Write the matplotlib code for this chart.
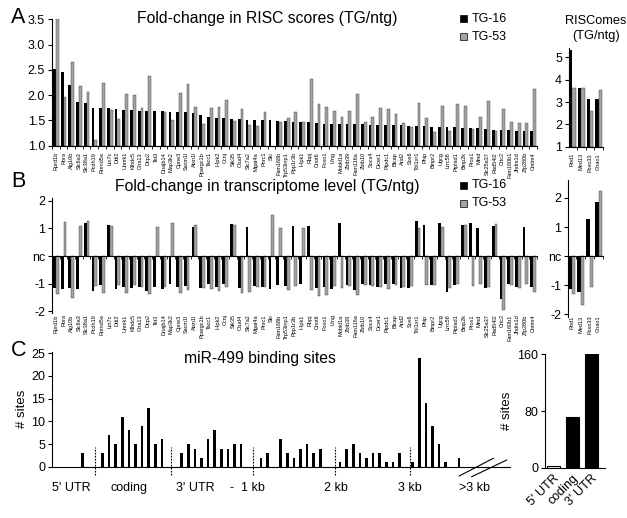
import numpy as np
import matplotlib
matplotlib.use('Agg')
import matplotlib.pyplot as plt
from matplotlib.patches import Rectangle
from matplotlib.ticker import FormatStrFormatter
from matplotlib import font_manager

plt.rcParams['font.family'] = ['Liberation Sans', 'DejaVu Sans']

# ---------------- data ----------------
genes = ['Rprd1b', 'Rora', 'Alg10b', 'Slc6a3', 'Slc38a1', 'Pcdh19', 'Rmnd5a', 'Lin7c', 'Ddi2',
         'Uhmk1', 'Klhdc5', 'Gna13', 'Dcp2', 'Tet3', 'Dnajb14', 'Map3k2', 'Cpne3', 'Sacm1l',
         'Atxn1l', 'Ppargc1b', 'Tacc1', 'Hipk2', 'Ccnj', 'Stk35', 'Otud4', 'Slc7a2', 'Mgat4a',
         'Pnrc1', 'Ski', 'Fam168b', 'Trp53inp1', 'Ppp1r3b', 'Hipk1', 'Rbpj', 'Cnot6', 'Foxo1',
         'Lfng', 'Mobkl1a', 'Zbtb39', 'Fam116a', 'Zbtb10', 'Socs4', 'Dicer1', 'Ptpdc1', 'Blcap',
         'Arid2', 'Sox6', 'Tbl1xr1', 'Phip', 'Bmpr2', 'Ugcg', 'Lrrc58', 'Ptplad1', 'Bmp2k',
         'Prox1', 'Mmd', 'Slc25a37', 'Rad54l2', 'Crtc2', 'Fam160b1', 'Jhdm1d', 'Zfp280b', 'Cmtm4']

risc_tg16 = [2.52, 2.46, 2.2, 1.86, 1.85, 1.75, 1.75, 1.74, 1.73, 1.71, 1.71, 1.69, 1.69, 1.69,
             1.69, 1.67, 1.67, 1.66, 1.64, 1.6, 1.57, 1.55, 1.54, 1.53, 1.53, 1.51, 1.5, 1.5, 1.5,
             1.49, 1.49, 1.47, 1.46, 1.46, 1.44, 1.43, 1.42, 1.42, 1.42, 1.42, 1.42, 1.41, 1.41,
             1.41, 1.4, 1.4, 1.39, 1.38, 1.38, 1.37, 1.36, 1.36, 1.36, 1.35, 1.35, 1.35, 1.34,
             1.32, 1.31, 1.31, 1.3, 1.29, 1.29]
risc_tg53 = [3.5, 1.97, 2.66, 2.18, 2.06, 1.11, 2.25, 1.71, 1.52, 2.02, 2.0, 1.75, 2.38, np.nan,
             1.67, 1.51, 2.04, 2.22, 1.77, 1.43, 1.75, 1.77, 1.9, 1.49, 1.73, 1.41, 1.39, 1.67,
             np.nan, 1.46, 1.55, 1.66, 1.46, 2.32, 1.82, 1.77, 1.69, 1.57, 1.68, 2.03, 1.46, 1.57,
             1.75, 1.73, 1.63, 1.44, 1.36, 1.84, 1.55, 1.27, 1.78, 1.29, 1.82, 1.78, 1.33, 1.56,
             1.88, 1.29, 1.73, 1.47, 1.45, 1.45, 2.12]

trans_tg16 = [-1.14, -1.2, -1.17, -1.19, 1.2, -1.27, -1.05, 1.14, -1.19, -1.13, -1.14, -1.11,
              -1.27, -1.11, -1.19, -1.01, -1.13, -1.07, 1.06, -1.17, -1.01, -1.12, -1.02, 1.16,
              -1.16, 1.05, -1.08, -1.11, -1.2, -1.04, -1.07, 1.1, -1.02, 1.07, -1.14, -1.13,
              -1.19, 1.18, -1.05, -1.23, -1.0, -1.05, -1.11, -1.01, -1.01, -1.17, -1.17, 1.26,
              1.12, -1.05, 1.2, -1.31, -1.05, 1.12, 1.18, 1.0, -1.14, 1.08, -1.57, -1.0, -1.11,
              1.06, -1.11]
trans_tg53 = [-1.39, 1.22, -1.53, 1.1, 1.25, -1.07, -1.33, 1.08, -1.05, -1.35, -1.05, -1.12,
              -1.37, 1.05, -1.13, 1.19, -1.35, -1.24, 1.11, -1.17, -1.2, -1.27, -1.13, 1.12,
              -1.35, -1.3, -1.11, -1.11, 1.48, 1.0, -1.24, -1.07, 1.0, -1.23, -1.45, -1.41,
              -1.07, -1.17, -1.07, -1.41, -1.05, -1.07, -1.13, -1.2, -1.05, -1.11, -1.1, 1.03,
              -1.05, -1.05, 1.06, -1.17, -1.02, 1.12, -1.07, -1.02, -1.11, 1.16, -1.95, -1.03,
              -1.17, -1.02, -1.31]

riscome_genes = ['Rod1', 'Med13', 'Fbxo33', 'Gnao1']
riscome_tg16 = [5.35, 3.65, 3.12, 3.12]
riscome_tg53 = [3.65, 3.65, 2.6, 3.54]
riscome_trans_tg16 = [-1.15, -1.23, 1.27, 1.85]
riscome_trans_tg53 = [-1.31, -1.69, -1.08, 2.25]

site_counts = [3, 0, 0, 3, 7, 5, 11, 8, 5, 9, 13, 5, 6, 0, 0, 3, 5, 4, 2, 6, 8, 4, 4, 5, 5,
               0, 0, 2, 3, 0, 6, 3, 2, 4, 5, 3, 4, 0, 0, 1, 4, 5, 3, 2, 3, 3, 1, 1, 3, 0, 1,
               24, 14, 9, 5, 1, 0, 2]
region_names = ["5' UTR", 'coding', "3' UTR"]
region_totals = [3, 72, 160]

series_names = ['TG-16', 'TG-53']

# ---------------- style ----------------
GRAY = '#a3a3a3'
EDGE = '#3a3a3a'
W, H = 627, 518
fig = plt.figure(figsize=(W / 100, H / 100), dpi=100)


def add_ax(l, t, r, b):
    return fig.add_axes([l / W, 1 - b / H, (r - l) / W, (b - t) / H])


def style(ax):
    for s in ['top', 'right']:
        ax.spines[s].set_visible(False)
    for s in ['left', 'bottom']:
        ax.spines[s].set_linewidth(0.8)
    ax.tick_params(axis='y', length=3, width=0.8, labelsize=9, pad=2)


def pair_bars(ax, a, b, bottom=0.0, w=0.36):
    xx = np.arange(len(a))
    ax.bar(xx - w / 2, np.array(a, float) - bottom, w, bottom=bottom, color='black', lw=0)
    ax.bar(xx + w / 2, np.array(b, float) - bottom, w, bottom=bottom, facecolor=GRAY,
           edgecolor=EDGE, lw=0.3)
    return xx


def gene_axis(ax, names, pad):
    xx = np.arange(len(names))
    ax.set_xticks(xx)
    ax.set_xticklabels(names, rotation=90, fontsize=4)
    ax.tick_params(axis='x', which='major', length=0, pad=pad)
    ax.set_xticks(np.arange(-0.5, len(names)), minor=True)
    ax.tick_params(axis='x', which='minor', length=2.5, width=0.6)
    ax.set_xlim(-0.5, len(names) - 0.5)


# ---------------- panel A ----------------
axA = add_ax(52, 19.3, 537, 145.7)
style(axA)
pair_bars(axA, risc_tg16, risc_tg53, bottom=1.0)
axA.set_ylim(1, 3.5)
axA.set_yticks(np.arange(1.0, 3.51, 0.5))
axA.yaxis.set_major_formatter(FormatStrFormatter('%.1f'))
gene_axis(axA, genes, 4.5)

axA2 = add_ax(569, 48, 603, 146.7)
style(axA2)
pair_bars(axA2, riscome_tg16, riscome_tg53, bottom=1.0, w=0.38)
axA2.set_ylim(1, 5.42)
axA2.set_yticks([1, 2, 3, 4, 5])
gene_axis(axA2, riscome_genes, 4.5)
axA2.set_xlim(-0.4, 3.5)

# ---------------- panel B ----------------
axB = add_ax(52, 198, 537, 313)
style(axB)
pair_bars(axB, trans_tg16, trans_tg53)
axB.set_ylim(-2.06, 2.1)
axB.spines['bottom'].set_position(('data', 0))
axB.set_yticks([-2, -1, 0, 1, 2])
axB.set_yticklabels(['-2', '-1', 'nc', '1', '2'])
gene_axis(axB, genes, 42)

axB2 = add_ax(568, 180, 603, 316.7)
style(axB2)
pair_bars(axB2, riscome_trans_tg16, riscome_trans_tg53, w=0.38)
axB2.set_ylim(-2.09, 2.62)
axB2.spines['bottom'].set_position(('data', 0))
axB2.set_yticks([-2, -1, 0, 1, 2])
axB2.set_yticklabels(['-2', '-1', 'nc', '1', '2'])
gene_axis(axB2, riscome_genes, 43)
axB2.set_xlim(-0.4, 3.5)

# ---------------- panel C ----------------
axC = add_ax(52, 351.7, 510, 466.7)
style(axC)
bins = np.arange(len(site_counts))
axC.bar(bins, site_counts, 0.42, color='black', lw=0)
axC.set_xlim(-4.65, 64.74)
axC.set_ylim(0, 25.35)
axC.set_yticks([0, 5, 10, 15, 20, 25])
axC.set_xticks([])
axC.set_ylabel('# sites', fontsize=9.5, labelpad=2)
dividers = [1.85, 13.4, 25.8, 38.3, 49.6]
axC.vlines(dividers, -1.8, 4.4, colors='black', linestyles=(0, (1.5, 1.2)), lw=0.8,
           clip_on=False)
ytxt = -4.7
for xp, s in [(-1.77, "5' UTR"), (7.0, 'coding'), (17.0, "3' UTR"), (22.5, '-'),
              (dividers[2], '1 kb'), (dividers[3], '2 kb'), (dividers[4], '3 kb'),
              (59.4, '>3 kb')]:
    axC.text(xp, ytxt, s, ha='center', va='center', fontsize=9)
for (x0, x1, y0, y1) in [(0.889, 0.9636, -0.081, 0.073), (0.9164, 0.9928, -0.087, 0.058)]:
    axC.plot([x0, x1], [y0, y1], color='black', lw=0.8, transform=axC.transAxes,
             clip_on=False)

axC2 = add_ax(545, 354, 605, 467.7)
style(axC2)
axC2.bar(np.arange(3), region_totals, 0.68, color=['white', 'black', 'black'],
         edgecolor='black', lw=0.8)
axC2.set_xlim(-0.44, 2.72)
axC2.set_ylim(0, 160.5)
axC2.set_yticks([0, 80, 160])
axC2.set_xticks(np.arange(3))
axC2.set_xticklabels(region_names, rotation=45, ha='right', rotation_mode='anchor',
                     fontsize=9)
axC2.tick_params(axis='x', length=0, pad=3)
axC2.set_ylabel('# sites', fontsize=9.5, labelpad=3)

# ---------------- titles, legends, letters ----------------
fig.text(267.5 / W, 1 - 19 / H, 'Fold-change in RISC scores (TG/ntg)', fontsize=11.3,
         ha='center', va='center')
fig.text(267 / W, 1 - 186.7 / H, 'Fold-change in transcriptome level (TG/ntg)',
         fontsize=11.3, ha='center', va='center')
fig.text(259.5 / W, 1 - 358.3 / H, 'miR-499 binding sites', fontsize=11.3,
         ha='center', va='center')

names = {f.name for f in font_manager.fontManager.ttflist}
if 'Liberation Sans Narrow' in names:
    rkw = dict(family=['Liberation Sans Narrow', 'Liberation Sans'], fontsize=10.5)
else:
    rkw = dict(fontsize=9.2)
fig.text(596 / W, 1 - 21 / H, 'RISComes', ha='center', va='center', **rkw)
fig.text(596 / W, 1 - 36 / H, '(TG/ntg)', ha='center', va='center', **rkw)

for ytop in (18.5, 185.5):
    for k, (nm, fc) in enumerate(zip(series_names, ['black', GRAY])):
        yc = ytop + 18 * k
        fig.add_artist(Rectangle((460 / W, 1 - (yc + 3.5) / H), 7 / W, 7 / H,
                                 transform=fig.transFigure, facecolor=fc,
                                 edgecolor='black', lw=0.5))
        fig.text(471.5 / W, 1 - yc / H, nm, fontsize=9, ha='left', va='center')

for letter, yb in [('A', 23), ('B', 187), ('C', 356)]:
    fig.text(11 / W, 1 - yb / H, letter, fontsize=15.5, ha='left', va='baseline')

fig.savefig('out.png', dpi=100)
